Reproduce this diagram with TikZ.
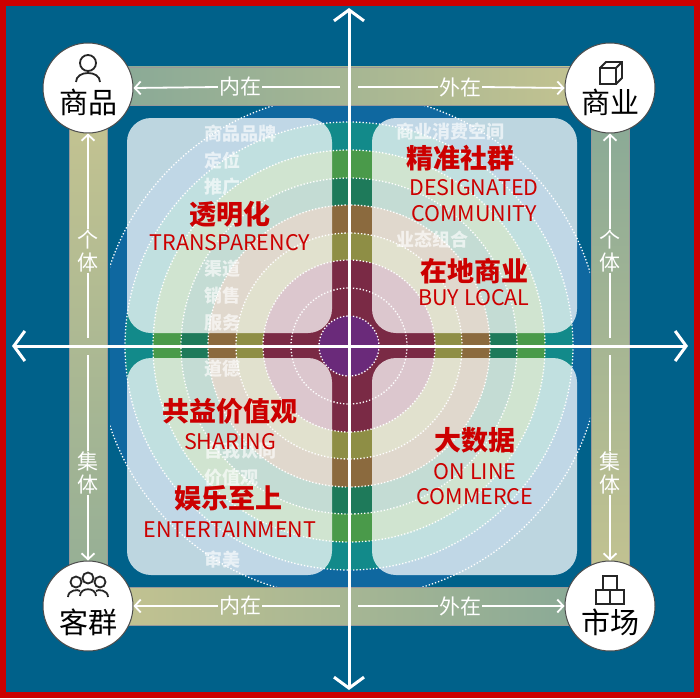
\documentclass[tikz,border=0pt]{standalone}
\usepackage{fontspec}
\setmainfont{Noto Sans CJK SC}
\usetikzlibrary{arrows.meta,shadows}
\definecolor{bgblue}{HTML}{00618A}
\definecolor{redc}{HTML}{CC0000}
\definecolor{bandA}{HTML}{86A897}
\definecolor{bandB}{HTML}{C6C490}
\definecolor{rBlue}{HTML}{0F68A0}
\definecolor{rTeal}{HTML}{128A8A}
\definecolor{rGreen}{HTML}{4A9A4A}
\definecolor{rDkGreen}{HTML}{1E7A5A}
\definecolor{rBrown}{HTML}{8B6A3E}
\definecolor{rOlive}{HTML}{8E8E45}
\definecolor{rMaroon}{HTML}{7A2A45}
\definecolor{rPurple}{HTML}{6A2A7A}
\tikzset{
  band/.style={draw=black!40,line width=0.6pt},
  corner/.style={circle,fill=white,draw=black!70,line width=1pt,minimum size=90pt,inner sep=0pt},
  cornertxt/.style={font=\fontsize{29}{29}\selectfont,text=black},
  bandtxt/.style={font=\fontsize{21}{21}\selectfont,text=white,inner sep=1pt},
  bandarrow/.style={white,line width=1.8pt,-{Straight Barb[length=6pt,width=13pt,line width=1.8pt]}},
  bandline/.style={white,line width=1.8pt},
  axis/.style={white,line width=3pt,-{Straight Barb[length=11pt,width=30pt,line width=3pt]}},
  panel/.style={fill=white,fill opacity=0.74,rounded corners=24pt},
  graytxt/.style={font=\bfseries\fontsize{18}{18}\selectfont,text=white,text opacity=0.65,anchor=west,inner sep=0pt},
  redbig/.style={font=\bfseries\fontsize{27}{27}\selectfont,text=redc,inner sep=0pt},
  redsmall/.style={font=\fontsize{21.5}{21.5}\selectfont,text=redc,inner sep=0pt},
  dotc/.style={white,line width=1.3pt,dash pattern=on 1.3pt off 2pt},
  icon/.style={black!85,line width=1.8pt}
}
\begin{document}
\begin{tikzpicture}[x=1pt,y=-1pt]
\useasboundingbox (0,0) rectangle (700,698);
\fill[redc] (0,0) rectangle (700,698);
\fill[bgblue] (6,6) rectangle (694,692);
% rings
\begin{scope}
\clip (110,106) rectangle (590,588);
\foreach \r/\c in {252/rBlue,224/rTeal,196/rGreen,168/rDkGreen,141/rBrown,113/rOlive,86/rMaroon,58/rMaroon,30/rPurple}{
  \fill[\c] (349,346) circle (\r);
}
\foreach \r in {30,58,86,113,141,168,196,224,252}{
  \draw[dotc] (349,346) circle (\r);
}
\end{scope}
% panels
\fill[panel] (127,118) rectangle (332,333);
\fill[panel] (372,118) rectangle (577,333);
\fill[panel] (127,358) rectangle (332,575);
\fill[panel] (372,358) rectangle (577,575);
% bands
\shade[band,left color=bandA,right color=bandB] (88,67) rectangle (610,105);
\shade[band,left color=bandB,right color=bandA] (88,587) rectangle (610,625);
\shade[band,top color=bandB,bottom color=bandA!80!bandB] (69,88) rectangle (107,606);
\shade[band,top color=bandA,bottom color=bandB] (591,88) rectangle (629,606);
% corner circles
\node[corner] (c1) at (88,88) {};
\node[corner] (c2) at (610,88) {};
\node[corner] (c3) at (88,606) {};
\node[corner] (c4) at (610,606) {};
\node[cornertxt] (t1) at (88,102) {商品};
\node[cornertxt] (t2) at (610,102) {商业};
\node[cornertxt] (t3) at (88,622) {客群};
\node[cornertxt] (t4) at (610,622) {市场};
% icons
\draw[icon] (88,63) circle (8);
\draw[icon] (76,82) .. controls (76,70) and (100,70) .. (100,82);
\draw[icon] (600,68) rectangle (616,84);
\draw[icon] (600,68) -- (606,62) -- (622,62) -- (622,78) -- (616,84) (616,68) -- (622,62);
\draw[icon] (88,578) circle (5.5) (76,582) circle (5.5) (100,582) circle (5.5);
\draw[icon] (80,596) .. controls (80,587) and (96,587) .. (96,596);
\draw[icon] (68,597) .. controls (68,590) and (78,589) .. (80,591);
\draw[icon] (108,597) .. controls (108,590) and (98,589) .. (96,591);
\draw[icon] (603,576) rectangle (617,590) (596,590) rectangle (610,604) (610,590) rectangle (624,604);
% band labels
\node[bandtxt] (l1) at (240,87) {内在};
\node[bandtxt] (l2) at (460,87) {外在};
\node[bandtxt] (l3) at (240,606) {内在};
\node[bandtxt] (l4) at (460,606) {外在};
\node[bandtxt,align=center,font=\fontsize{21}{23}\selectfont] (l5) at (88,251) {个\\体};
\node[bandtxt,align=center,font=\fontsize{21}{23}\selectfont] (l6) at (88,473) {集\\体};
\node[bandtxt,align=center,font=\fontsize{21}{23}\selectfont] (l7) at (610,251) {个\\体};
\node[bandtxt,align=center,font=\fontsize{21}{23}\selectfont] (l8) at (610,473) {集\\体};
\coordinate (mt) at (340,87); \coordinate (mt2) at (358,87);
\coordinate (mb) at (340,606); \coordinate (mb2) at (358,606);
\coordinate (ml) at (88,338); \coordinate (ml2) at (88,355);
\coordinate (mr) at (610,338); \coordinate (mr2) at (610,355);
\draw[bandarrow] (l1.west) -- (c1.east);
\draw[bandline] (mt) -- (l1.east);
\draw[bandline] (mt2) -- (l2.west);
\draw[bandarrow] (l2.east) -- (c2.west);
\draw[bandarrow] (l3.west) -- (c3.east);
\draw[bandline] (mb) -- (l3.east);
\draw[bandline] (mb2) -- (l4.west);
\draw[bandarrow] (l4.east) -- (c4.west);
\draw[bandarrow] (l5.north) -- (c1.south);
\draw[bandline] (ml) -- (l5.south);
\draw[bandline] (ml2) -- (l6.north);
\draw[bandarrow] (l6.south) -- (c3.north);
\draw[bandarrow] (l7.north) -- (c2.south);
\draw[bandline] (mr) -- (l7.south);
\draw[bandline] (mr2) -- (l8.north);
\draw[bandarrow] (l8.south) -- (c4.north);
% axes
\coordinate (ax1) at (12,346); \coordinate (ax2) at (688,346);
\coordinate (ay1) at (349,8); \coordinate (ay2) at (349,690);
\coordinate (o) at (349,346);
\draw[axis] (o) -- (ax1);
\draw[axis] (o) -- (ax2);
\draw[axis] (o) -- (ay1);
\draw[axis] (o) -- (ay2);
% gray texts
\node[graytxt] (g1) at (204,134) {商品品牌};
\node[graytxt] (g2) at (204,160) {定位};
\node[graytxt] (g3) at (204,187) {推广};
\node[graytxt] (g4) at (204,269) {渠道};
\node[graytxt] (g5) at (204,296) {销售};
\node[graytxt] (g6) at (204,323) {服务};
\node[graytxt] (g7) at (396,132) {商业消费空间};
\node[graytxt] (g8) at (396,240) {业态组合};
\node[graytxt] (g9) at (204,369) {道德};
\node[graytxt] (g10) at (204,451) {自我认同};
\node[graytxt] (g11) at (204,478) {价值观};
\node[graytxt] (g12) at (204,560) {审美};
% red texts
\node[redbig] (r1) at (230,214) {透明化};
\node[redsmall] (r2) at (230,243) {TRANSPARENCY};
\node[redbig] (r3) at (460,158) {精准社群};
\node[redsmall] (r4) at (474,188) {DESIGNATED};
\node[redsmall] (r5) at (474,214) {COMMUNITY};
\node[redbig] (r6) at (474,271) {在地商业};
\node[redsmall] (r7) at (474,298) {BUY LOCAL};
\node[redbig] (r8) at (230,411) {共益价值观};
\node[redsmall] (r9) at (230,442) {SHARING};
\node[redbig] (r10) at (228,498) {娱乐至上};
\node[redsmall] (r11) at (230,530) {ENTERTAINMENT};
\node[redbig] (r12) at (475,440) {大数据};
\node[redsmall] (r13) at (475,472) {ON LINE};
\node[redsmall] (r14) at (475,497) {COMMERCE};
\end{tikzpicture}
\end{document}
